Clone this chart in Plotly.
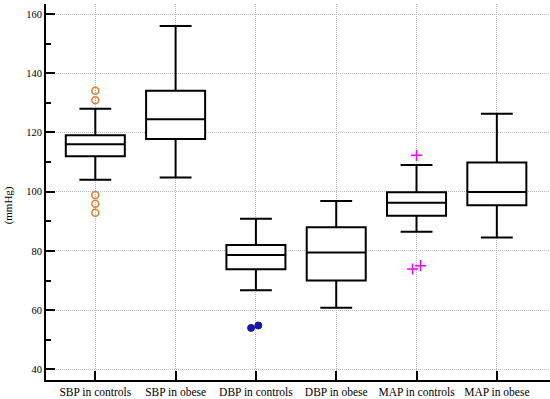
import plotly.graph_objects as go

categories = ["SBP in controls", "SBP in obese", "DBP in controls",
              "DBP in obese", "MAP in controls", "MAP in obese"]
lower_whisker = [104, 104.8, 66.7, 60.8, 86.5, 84.5]
q1_values = [112, 117.8, 73.8, 70.0, 91.9, 95.4]
medians = [116, 124.5, 78.6, 79.5, 96.3, 99.9]
q3_values = [119.1, 134.1, 82.0, 88.0, 99.8, 109.9]
upper_whisker = [128, 156, 90.9, 96.9, 109.0, 126.3]

# outliers: (category index, value)
sbp_ctrl_out_idx = [0, 0, 0, 0, 0]
sbp_ctrl_out_val = [134.1, 130.9, 98.9, 95.9, 92.9]
dbp_ctrl_out_idx = [2, 2]
dbp_ctrl_out_val = [54.0, 54.8]
map_ctrl_out_idx = [4, 4, 4]
map_ctrl_out_val = [112.3, 73.9, 75.0]

# small horizontal offsets of overlapping outlier markers (layout only)
dbp_offsets = [-0.06, 0.03]
map_offsets = [0.0, -0.05, 0.05]

fig = go.Figure()
for i, cat in enumerate(categories):
    fig.add_trace(go.Box(
        x=[i], q1=[q1_values[i]], median=[medians[i]], q3=[q3_values[i]],
        lowerfence=[lower_whisker[i]], upperfence=[upper_whisker[i]],
        name=cat, boxpoints=False, fillcolor="white",
        line=dict(color="black", width=2), width=0.735, whiskerwidth=0.54,
        showlegend=False, hoverinfo="skip"))

fig.add_trace(go.Scatter(
    x=sbp_ctrl_out_idx, y=sbp_ctrl_out_val, mode="markers",
    marker=dict(symbol="circle-open", size=7, color="#E87A2C", line=dict(width=1.5)),
    showlegend=False))
fig.add_trace(go.Scatter(
    x=[i + o for i, o in zip(dbp_ctrl_out_idx, dbp_offsets)], y=dbp_ctrl_out_val,
    mode="markers",
    marker=dict(symbol="circle", size=7, color="#1414C8", line=dict(width=1, color="#202060")),
    showlegend=False))
fig.add_trace(go.Scatter(
    x=[i + o for i, o in zip(map_ctrl_out_idx, map_offsets)], y=map_ctrl_out_val,
    mode="markers",
    marker=dict(symbol="cross-thin", size=8, color="#FF00FF", line=dict(width=1.5, color="#FF00FF")),
    showlegend=False))

font_family = "Liberation Serif, Times New Roman, serif"

fig.update_layout(
    width=550, height=399,
    margin=dict(l=46, r=0, t=4, b=19, autoexpand=False),
    paper_bgcolor="white", plot_bgcolor="white",
    font=dict(family=font_family, size=11, color="black"),
    xaxis=dict(
        range=[-0.614, 5.662], tickvals=list(range(len(categories))), ticktext=categories,
        showline=True, linecolor="black", linewidth=2,
        ticks="inside", ticklen=9, tickwidth=2, tickcolor="black",
        showgrid=True, gridcolor="#bcbcbc", griddash="1px,1px", gridwidth=1,
        zeroline=False, tickfont=dict(size=11.5)),
    yaxis=dict(
        range=[36.4, 163.4], tickvals=[40, 60, 80, 100, 120, 140, 160],
        showline=True, linecolor="black", linewidth=2,
        ticks="inside", ticklen=9, tickwidth=2, tickcolor="black",
        showgrid=True, gridcolor="#bcbcbc", griddash="1px,1px", gridwidth=1,
        zeroline=False, tickfont=dict(size=10.5),
        minor=dict(tickvals=[50, 70, 90, 110, 130, 150], ticks="inside",
                   ticklen=5, tickwidth=1.5, tickcolor="black", showgrid=False)),
    annotations=[dict(text="(mmHg)", x=-0.075, y=0.465, xref="paper", yref="paper",
                      textangle=-90, showarrow=False, font=dict(size=11),
                      xanchor="center", yanchor="middle")],
)

fig.write_html("out.html", config={"displayModeBar": False},
               post_script="document.body.style.margin='0';document.body.style.overflow='hidden';")
